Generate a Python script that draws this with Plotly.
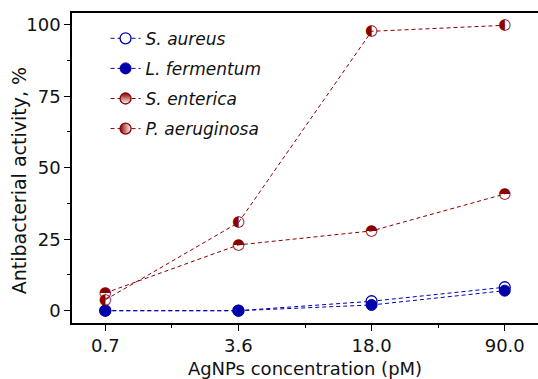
import plotly.graph_objects as go

categories = ["0.7", "3.6", "18.0", "90.0"]
s_aureus = [0, 0, 3.3, 8.2]
l_fermentum = [0, 0, 2.0, 7.0]
s_enterica = [6.2, 23.0, 27.9, 40.8]
p_aeruginosa = [3.8, 30.8, 97.7, 99.8]

y_ticks = [0, 25, 50, 75, 100]

BLUE = "#0000aa"
RED = "#880000"
FONT = "DejaVu Sans"

x = list(range(len(categories)))
dash = "4px,3px"

fig = go.Figure()

fig.add_trace(go.Scatter(
    x=x, y=s_aureus, name="<i>S. aureus</i>", mode="lines+markers", legendgroup="a",
    line=dict(color=BLUE, width=1, dash=dash),
    marker=dict(symbol="circle", size=11, color="white", line=dict(color=BLUE, width=1.3)),
))
fig.add_trace(go.Scatter(
    x=x, y=l_fermentum, name="<i>L. fermentum</i>", mode="lines+markers", legendgroup="b",
    line=dict(color=BLUE, width=1, dash=dash),
    marker=dict(symbol="circle", size=11, color=BLUE, line=dict(color=BLUE, width=1)),
))

# upper-half-filled circle (U+25D3) and left-half-filled circle (U+25D0)
half_series = [
    ("<i>S. enterica</i>", s_enterica, "\u25D3", "vertical", "c"),
    ("<i>P. aeruginosa</i>", p_aeruginosa, "\u25D0", "horizontal", "d"),
]
for name, vals, glyph, grad, grp in half_series:
    fig.add_trace(go.Scatter(
        x=x, y=vals, mode="lines+text", showlegend=False, legendgroup=grp,
        line=dict(color=RED, width=1, dash=dash),
        text=[glyph] * len(vals), textposition="middle center",
        textfont=dict(family="DejaVu Sans", size=15, color=RED),
    ))
    fig.add_trace(go.Scatter(
        x=[None], y=[None], name=name, mode="lines+markers", legendgroup=grp,
        line=dict(color=RED, width=1, dash=dash),
        marker=dict(symbol="circle", size=11, color=RED,
                    gradient=dict(type=grad, color="white"),
                    line=dict(color=RED, width=1.3)),
    ))

fig.update_layout(
    width=538, height=379,
    margin=dict(l=72, r=0, t=13, b=56),
    paper_bgcolor="white", plot_bgcolor="white",
    font=dict(family=FONT, size=18, color="#111111"),
    showlegend=True,
    legend=dict(x=0.072, y=0.975, xanchor="left", yanchor="top",
                bgcolor="rgba(0,0,0,0)", font=dict(size=17), tracegroupgap=5),
    xaxis=dict(
        range=[-0.25, 3.25], tickmode="array", tickvals=x, ticktext=categories,
        showgrid=False, zeroline=False, showline=True, linecolor="black", linewidth=1.5,
        mirror=True, ticks="outside", ticklen=6, tickcolor="black",
        minor=dict(tickmode="linear", tick0=0, dtick=0.5, ticks="outside", ticklen=3, tickcolor="black", showgrid=False),
        title=dict(text="AgNPs concentration (pM)", standoff=8, font=dict(size=18)),
    ),
    yaxis=dict(
        range=[-4.3, 104.1], tickmode="array", tickvals=y_ticks,
        showgrid=False, zeroline=False, showline=True, linecolor="black", linewidth=1.5,
        ticks="outside", ticklen=6, tickcolor="black",
        minor=dict(tickmode="linear", tick0=0, dtick=12.5, ticks="outside", ticklen=3, tickcolor="black", showgrid=False),
    ),
    annotations=[dict(
        text="Antibacterial activity, %", xref="paper", yref="paper",
        x=-0.112, y=0.46, textangle=-90, showarrow=False,
        xanchor="center", yanchor="middle", font=dict(size=19),
    )],
)

fig.write_html("out.html")
